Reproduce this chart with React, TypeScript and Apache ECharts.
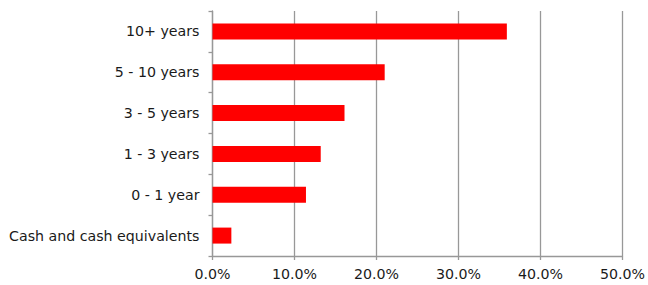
import React, { useEffect, useRef } from "react";
import * as echarts from "echarts";

const categories = [
  "Cash and cash equivalents",
  "0 - 1 year",
  "1 - 3 years",
  "3 - 5 years",
  "5 - 10 years",
  "10+ years",
];
const values = [2.3, 11.4, 13.2, 16.1, 21.0, 35.9];
const xMin = 0;
const xMax = 50;
const xInterval = 10;

export default function App() {
  const ref = useRef<HTMLDivElement>(null);
  useEffect(() => {
    if (!ref.current) return;
    const chart = echarts.init(ref.current, undefined, { renderer: "svg" });
    const font = "DejaVu Sans, Verdana, sans-serif";
    const grey = "#989898";
    chart.setOption({
      animation: false,
      backgroundColor: "#ffffff",
      grid: { left: 212.5, right: 24.7, top: 11, bottom: 29, containLabel: false },
      xAxis: {
        type: "value",
        min: xMin,
        max: xMax,
        interval: xInterval,
        axisLine: { show: true, lineStyle: { color: grey, width: 1.3 } },
        axisTick: { show: true, length: 4, lineStyle: { color: grey, width: 1.3 } },
        splitLine: { show: true, lineStyle: { color: grey, width: 1.3 } },
        axisLabel: {
          color: "#1a1a1a",
          fontFamily: font,
          fontSize: 14.2,
          margin: 11,
          formatter: (v: number) => v.toFixed(1) + "%",
        },
      },
      yAxis: {
        type: "category",
        data: categories,
        axisLine: { show: true, lineStyle: { color: grey, width: 1.3 } },
        axisTick: { show: true, length: 4, alignWithLabel: false, lineStyle: { color: grey, width: 1.3 } },
        splitLine: { show: false },
        axisLabel: {
          color: "#1a1a1a",
          fontFamily: font,
          fontSize: 14.2,
          margin: 13,
        },
      },
      series: [
        {
          type: "bar",
          data: values,
          barWidth: 16,
          itemStyle: { color: "#ff0000" },
        },
      ],
    });
    return () => chart.dispose();
  }, []);
  return (
    <div
      ref={ref}
      style={{ position: "fixed", left: 0, top: 0, width: 648, height: 285 }}
    />
  );
}
